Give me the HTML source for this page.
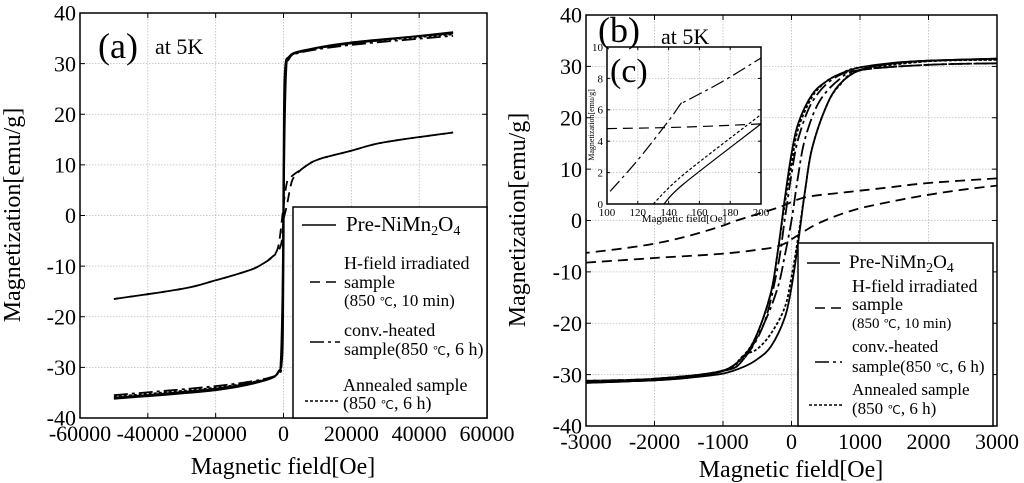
<!DOCTYPE html>
<html><head><meta charset="utf-8">
<style>
html,body{margin:0;padding:0;background:#fff;}
svg{display:block;font-family:"Liberation Serif",serif;}
</style></head>
<body>
<svg id="fig" width="1024" height="483" viewBox="0 0 1024 483"></svg>
<script>
// ---------- Panel (a) data: full field range ----------
const aPreDownX = [50000, 20000, 5000, 1500, 600, 200, 0, -100, -300, -800, -1500, -5000, -20000, -50000];
const aPreDownY = [36.2, 34.0, 32.5, 31.3, 30.0, 25, 10, 0, -15, -28.5, -30.8, -32.5, -34.5, -36.2];
const aPreUpX = [-50000, -20000, -5000, -1500, -600, -200, 0, 100, 300, 800, 1500, 5000, 20000, 50000];
const aPreUpY = [-36.0, -34.2, -32.4, -31.0, -29.5, -25, -10, 0, 15, 28.5, 30.8, 32.4, 34.2, 36.0];
const aConvX = [-50000, -20000, -5000, -1500, -500, 0, 500, 1500, 5000, 20000, 50000];
const aConvY = [-35.5, -33.7, -32.2, -30.8, -27, 0, 27, 30.8, 32.2, 33.7, 35.5];
const aAnnX = [-50000, -20000, -5000, -1500, -500, 0, 500, 1500, 5000, 20000, 50000];
const aAnnY = [-35.8, -34.0, -32.3, -31.0, -27.5, 0, 27.5, 31.0, 32.3, 34.0, 35.8];
const aHDownX = [50000, 30000, 20000, 10000, 5000, 2000, 1000, 0, -500, -1500, -3000, -6000, -10000, -20000, -30000, -50000];
const aHDownY = [16.4, 14.5, 12.8, 11.0, 9.0, 7.5, 6.5, 2, -1, -6, -8, -9.5, -10.8, -12.8, -14.5, -16.5];
const aHUpX = [-50000, -30000, -20000, -10000, -6000, -3000, -1500, -500, 0, 1000, 2000, 3000, 6000, 10000, 20000, 30000, 50000];
const aHUpY = [-16.5, -14.5, -12.8, -10.8, -9.5, -8.0, -7.0, -5, -1, 2, 5.5, 7.5, 9.5, 11.0, 12.8, 14.5, 16.4];

// ---------- Panel (b) data: low-field loops ----------
const bPreDownX = [3000, 2000, 1500, 1000, 700, 500, 300, 100, 0, -100, -200, -300, -500, -700, -1000, -1500, -2000, -3000];
const bPreDownY = [31.5, 31.1, 30.7, 29.8, 28.5, 27, 24.5, 19, 13, 4, -6, -14, -22, -26.5, -29.3, -30.6, -31.1, -31.6];
const bPreUpX = [-3000, -2000, -1500, -1000, -700, -500, -300, -100, 0, 100, 200, 300, 500, 700, 1000, 1500, 2000, 3000];
const bPreUpY = [-31.6, -31.1, -30.6, -29.8, -28.5, -27, -24.5, -19, -13, -4, 6, 14, 22, 26.5, 29.3, 30.6, 31.1, 31.5];
const bConvDownX = [3000, 2000, 1000, 600, 300, 100, 0, -100, -200, -400, -700, -1000, -2000, -3000];
const bConvDownY = [30.6, 30.3, 29.3, 27.5, 23, 16, 9, 0, -9, -20, -27, -29.3, -30.8, -31.2];
const bConvUpX = [-3000, -2000, -1000, -700, -400, -200, -100, 0, 100, 200, 400, 700, 1000, 2000, 3000];
const bConvUpY = [-31.2, -30.8, -29.3, -27, -20, -13, -7, 0, 9, 16, 23, 27.5, 29.3, 30.3, 30.6];
const bAnnDownX = [3000, 2000, 1000, 700, 500, 300, 100, 0, -100, -200, -300, -500, -700, -1000, -2000, -3000];
const bAnnDownY = [31.3, 31.0, 29.8, 28.4, 27, 24, 18, 11, 3, -6, -14, -22, -26.3, -29.2, -31.0, -31.4];
const bAnnUpX = [-3000, -2000, -1000, -700, -500, -300, -100, 0, 100, 200, 300, 500, 700, 1000, 2000, 3000];
const bAnnUpY = [-31.4, -31.0, -29.2, -26.3, -25, -22, -17, -11, -3, 6, 14, 22, 26.3, 29.2, 31.0, 31.3];
const bHDownX = [3000, 2000, 1400, 800, 200, -200, -800, -1000, -1500, -2000, -2500, -3000];
const bHDownY = [8.2, 7.3, 6.4, 5.5, 4.5, 2.5, 0, -1, -3, -4.5, -5.5, -6.3];
const bHUpX = [-3000, -2000, -1040, -500, -170, 80, 400, 900, 1500, 2000, 2500, 3000];
const bHUpY = [-8.2, -7.3, -6.5, -5.7, -4.9, -3, -0.5, 2, 3.8, 5.0, 6.0, 6.8];

// ---------- Inset (c) data ----------
const cConvX = [102, 120, 140, 148, 150, 175, 200];
const cConvY = [0.8, 2.8, 5.3, 6.4, 6.5, 7.8, 9.3];
const cHX = [100, 150, 200];
const cHY = [4.8, 4.9, 5.1];
const cAnnX = [130, 150, 200];
const cAnnY = [0, 1.9, 5.7];
const cPreX = [137, 150, 200];
const cPreY = [0, 1.3, 5.1];

const aXTicks = [-60000, -40000, -20000, 0, 20000, 40000, 60000];
const abYTicks = [-40, -30, -20, -10, 0, 10, 20, 30, 40];
const bXTicks = [-3000, -2000, -1000, 0, 1000, 2000, 3000];
const cXTicks = [100, 120, 140, 160, 180, 200];
const cYTicks = [0, 2, 4, 6, 8, 10];

const NS = "http://www.w3.org/2000/svg";
const fig = document.getElementById('fig');
function mk(tag, attrs, parent) {
  const e = document.createElementNS(NS, tag);
  for (const k in attrs) e.setAttribute(k, attrs[k]);
  (parent || fig).appendChild(e);
  return e;
}
const DASH = { pre: null, h: "10,6", conv: "14,4,3,4", ann: "3,2" };

function smoothPath(pts) {
  let d = 'M' + pts[0][0].toFixed(1) + ',' + pts[0][1].toFixed(1);
  for (let i = 0; i < pts.length - 1; i++) {
    const p0 = pts[i - 1] || pts[i], p1 = pts[i], p2 = pts[i + 1], p3 = pts[i + 2] || p2;
    const c1x = p1[0] + (p2[0] - p0[0]) / 6, c1y = p1[1] + (p2[1] - p0[1]) / 6;
    const c2x = p2[0] - (p3[0] - p1[0]) / 6, c2y = p2[1] - (p3[1] - p1[1]) / 6;
    d += 'C' + c1x.toFixed(1) + ',' + c1y.toFixed(1) + ' ' + c2x.toFixed(1) + ',' + c2y.toFixed(1) + ' ' + p2[0].toFixed(1) + ',' + p2[1].toFixed(1);
  }
  return d;
}

function panel(name, f, xd, yd, xt, yt, fs, tickLen) {
  const g = mk('g', {});
  
  
  const sx = v => f.l + (v - xd[0]) / (xd[1] - xd[0]) * (f.r - f.l);
  const sy = v => f.b - (v - yd[0]) / (yd[1] - yd[0]) * (f.b - f.t);
  mk('rect', {x: f.l, y: f.t, width: f.r - f.l, height: f.b - f.t, fill: '#fff'}, g);
  const grid = mk('g', {stroke: '#bbb', 'stroke-width': 0.8, 'stroke-dasharray': '1.5,1.5'}, g);
  
  
  xt.forEach(v => { if (v > xd[0] && v < xd[1]) mk('line', {x1: sx(v), x2: sx(v), y1: f.t, y2: f.b}, grid); });
  yt.forEach(v => { if (v > yd[0] && v < yd[1]) mk('line', {x1: f.l, x2: f.r, y1: sy(v), y2: sy(v)}, grid); });
  const ticks = mk('g', {stroke: '#000', 'stroke-width': 1}, g);
  xt.forEach(v => {
    mk('line', {x1: sx(v), x2: sx(v), y1: f.b, y2: f.b - tickLen}, ticks);
    mk('line', {x1: sx(v), x2: sx(v), y1: f.t, y2: f.t + tickLen}, ticks);
    const t = mk('text', {x: sx(v), y: f.b + fs + 1, 'font-size': fs, 'text-anchor': 'middle'}, g);
    t.textContent = v;
    
    
  });
  yt.forEach(v => {
    mk('line', {x1: f.l, x2: f.l + tickLen, y1: sy(v), y2: sy(v)}, ticks);
    mk('line', {x1: f.r, x2: f.r - tickLen, y1: sy(v), y2: sy(v)}, ticks);
    const t = mk('text', {x: f.l - 4, y: sy(v) + fs * 0.35, 'font-size': fs, 'text-anchor': 'end'}, g);
    t.textContent = v;
    
    
  });
  mk('rect', {x: f.l, y: f.t, width: f.r - f.l, height: f.b - f.t, fill: 'none', stroke: '#000', 'stroke-width': 1.5}, g);
  const clipId = name + '-clip';
  const cp = mk('clipPath', {id: clipId}, g);
  mk('rect', {x: f.l, y: f.t, width: f.r - f.l, height: f.b - f.t}, cp);
  const plotG = mk('g', {'clip-path': 'url(#' + clipId + ')'}, g);
  function line(xs, ys, kind, sname, w) {
    const pts = xs.map((x, i) => [sx(x), sy(ys[i])]);
    const p = mk('path', {d: smoothPath(pts), fill: 'none', stroke: '#000', 'stroke-width': w || 1.8}, plotG);
    if (DASH[kind]) p.setAttribute('stroke-dasharray', DASH[kind]);
    
    
  }
  return {g, line, sx, sy};
}

// Panel (a)
const A = panel('panel-a', {l: 80, r: 487, t: 13, b: 418}, [-60000, 60000], [-40, 40], aXTicks, abYTicks, 22, 5);
A.line(aHDownX, aHDownY, 'h', 'series-hfield-down');
A.line(aHUpX, aHUpY, 'h', 'series-hfield-up');
A.line(aConvX, aConvY, 'conv', 'series-conv-heated');
A.line(aAnnX, aAnnY, 'ann', 'series-annealed');
A.line(aPreDownX, aPreDownY, 'pre', 'series-pre-down');
A.line(aPreUpX, aPreUpY, 'pre', 'series-pre-up');

// Panel (b)
const B = panel('panel-b', {l: 586, r: 997, t: 15, b: 426}, [-3000, 3000], [-40, 40], bXTicks, abYTicks, 22, 5);
B.line(bHDownX, bHDownY, 'h', 'series-hfield-down');
B.line(bHUpX, bHUpY, 'h', 'series-hfield-up');
B.line(bConvDownX, bConvDownY, 'conv', 'series-conv-heated-down');
B.line(bConvUpX, bConvUpY, 'conv', 'series-conv-heated-up');
B.line(bAnnDownX, bAnnDownY, 'ann', 'series-annealed-down');
B.line(bAnnUpX, bAnnUpY, 'ann', 'series-annealed-up');
B.line(bPreDownX, bPreDownY, 'pre', 'series-pre-down');
B.line(bPreUpX, bPreUpY, 'pre', 'series-pre-up');

// Inset (c)
const C = panel('inset-c', {l: 607, r: 761, t: 47, b: 204}, [100, 200], [0, 10], cXTicks, cYTicks, 11, 3);
C.line(cConvX, cConvY, 'conv', 'inset-series-conv-heated', 1.2);
C.line(cHX, cHY, 'h', 'inset-series-hfield', 1.2);
C.line(cAnnX, cAnnY, 'ann', 'inset-series-annealed', 1.2);
C.line(cPreX, cPreY, 'pre', 'inset-series-pre', 1.2);

function text(x, y, s, fs, nm, extra) {
  const t = mk('text', Object.assign({x: x, y: y, 'font-size': fs}, extra || {}));
  t.innerHTML = s;
  
  
  return t;
}
// Titles / labels
text(283, 474, 'Magnetic field[Oe]', 24, 'panel-a-x-axis-title', {'text-anchor': 'middle'});
text(20, 215, 'Magnetization[emu/g]', 24, 'panel-a-y-axis-title', {'text-anchor': 'middle', transform: 'rotate(-90 20 215)'});
text(791, 477, 'Magnetic field[Oe]', 24, 'panel-b-x-axis-title', {'text-anchor': 'middle'});
text(525, 220, 'Magnetization[emu/g]', 24, 'panel-b-y-axis-title', {'text-anchor': 'middle', transform: 'rotate(-90 525 220)'});
text(684, 222, 'Magnetic field[Oe]', 11, 'inset-x-axis-title', {'text-anchor': 'middle'});
text(594, 125, 'Magnetization[emu/g]', 8, 'inset-y-axis-title', {'text-anchor': 'middle', transform: 'rotate(-90 594 125)'});
text(98, 58, '(a)', 36, 'panel-a-label');
text(155, 54, 'at 5K', 22, 'panel-a-temperature');
text(598, 42, '(b)', 36, 'panel-b-label');
text(661, 44, 'at 5K', 22, 'panel-b-temperature');
text(610, 82, '(c)', 34, 'inset-c-label');

// Legends
function legend(nm, box, entries) {
  const g = mk('g', {});
  
  
  mk('rect', {x: box.x, y: box.y, width: box.w, height: box.h, fill: '#fff', stroke: '#000', 'stroke-width': 1.5}, g);
  entries.forEach(e => {
    const eg = mk('g', {}, g);
    
    
    const l = mk('line', {x1: e.lx1, x2: e.lx2, y1: e.ly, y2: e.ly, stroke: '#000', 'stroke-width': 1.6}, eg);
    if (DASH[e.k]) l.setAttribute('stroke-dasharray', DASH[e.k]);
    e.lines.forEach((s, i) => {
      const t = mk('text', {x: e.tx, y: e.ty[i], 'font-size': e.fs[i], textLength: e.tl ? e.tl[i] : null}, eg);
      if (!e.tl || !e.tl[i]) t.removeAttribute('textLength');
      t.innerHTML = s;
    });
  });
}
const sub = (a) => '<tspan dy="4" font-size="14">' + a + '</tspan><tspan dy="-4">';
const C1 = '<tspan font-size="12">℃</tspan>';
legend('panel-a-legend', {x: 293, y: 207, w: 194, h: 211}, [
  {k: 'pre', lx1: 302, lx2: 336, ly: 225, tx: 346, ty: [231], fs: [21], lines: ['Pre-NiMn' + sub('2') + 'O</tspan>' + sub('4') + '</tspan>']},
  {k: 'h', lx1: 310, lx2: 340, ly: 282, tx: 344, ty: [269, 288, 306], fs: [18, 18, 17], lines: ['H-field irradiated', 'sample', '(850 ' + C1 + ', 10 min)']},
  {k: 'conv', lx1: 310, lx2: 340, ly: 342, tx: 344, ty: [336, 355], fs: [18, 18], lines: ['conv.-heated', 'sample(850 ' + C1 + ', 6 h)']},
  {k: 'ann', lx1: 305, lx2: 340, ly: 401, tx: 343, ty: [391, 409], fs: [18, 18], lines: ['Annealed sample', '(850 ' + C1 + ', 6 h)']}
]);
legend('panel-b-legend', {x: 798, y: 243, w: 195, h: 183}, [
  {k: 'pre', lx1: 807, lx2: 840, ly: 263, tx: 849, ty: [268], fs: [19], lines: ['Pre-NiMn' + sub('2') + 'O</tspan>' + sub('4') + '</tspan>']},
  {k: 'h', lx1: 815, lx2: 842, ly: 308, tx: 852, ty: [292, 310, 328], fs: [18, 18, 15], lines: ['H-field irradiated', 'sample', '(850 ' + C1 + ', 10 min)']},
  {k: 'conv', lx1: 815, lx2: 842, ly: 362, tx: 852, ty: [352, 372], fs: [17, 17], lines: ['conv.-heated', 'sample(850 ' + C1 + ', 6 h)']},
  {k: 'ann', lx1: 809, lx2: 842, ly: 405, tx: 852, ty: [395, 414], fs: [17, 17], lines: ['Annealed sample', '(850 ' + C1 + ', 6 h)']}
]);
</script>
</body></html>
